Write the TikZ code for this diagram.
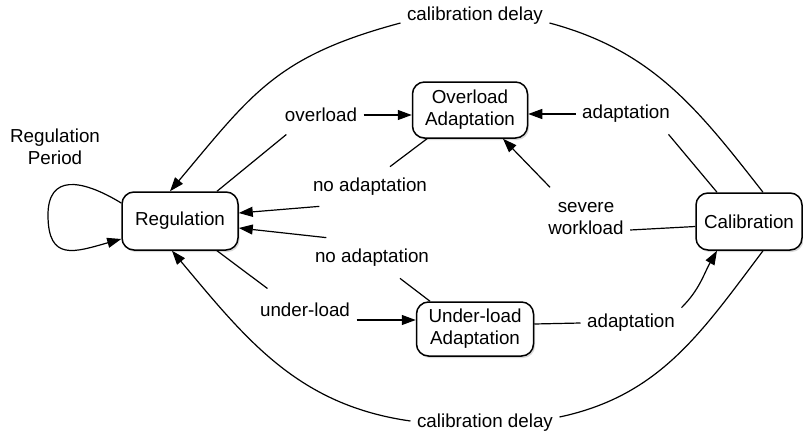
\documentclass[tikz,border=0pt]{standalone}
\usepackage{fontspec}
\setmainfont{Liberation Sans}
\usetikzlibrary{arrows.meta,shadows}

\begin{document}
\begin{tikzpicture}[x=1pt,y=-1pt,line width=1.2pt,
    font=\fontsize{18.8}{22}\selectfont,
    state/.style={draw,line width=1.5pt,rounded corners=12pt,fill=white,align=center,
      drop shadow={shadow xshift=1.5pt,shadow yshift=-2pt,opacity=0.3}},
    lbl/.style={inner sep=6pt,align=center},
    arr/.style={-{Triangle[length=14pt,width=10pt]}}]
      \useasboundingbox (0,0) rectangle (803,434);

      \node[state,minimum width=116pt,minimum height=58pt] (reg) at (180,221) {Regulation};
      \node[state,minimum width=115pt,minimum height=56pt] (ovr) at (470,110) {Overload\\Adaptation};
      \node[state,minimum width=117pt,minimum height=54pt] (und) at (475,329) {Under-load\\Adaptation};
      \node[state,minimum width=106pt,minimum height=57pt] (cal) at (749,221.5) {Calibration};

      \node[lbl] (perlbl) at (55,147) {Regulation\\Period};
      \node[lbl] (topdel) at (475,16) {calibration delay};
      \node[lbl] (botdel) at (485,423) {calibration delay};
      \node[lbl] (ovlbl) at (321,115) {overload};
      \node[lbl] (noad1) at (370,187) {no adaptation};
      \node[lbl] (noad2) at (372,258) {no adaptation};
      \node[lbl] (unlbl) at (305,310) {under-load};
      \node[lbl] (adap1) at (626,114) {adaptation};
      \node[lbl] (severe) at (586,219) {severe\\workload};
      \node[lbl] (adap2) at (631,323) {adaptation};
      \coordinate (uin) at ([yshift=9pt]und.west);

      \draw[arr] ([yshift=18pt]reg.west) .. controls (80,178) and (48,175) .. (48,215)
        .. controls (48,262) and (75,252) .. ([yshift=-18pt]reg.west);

      \draw ([xshift=37pt]reg.north) -- ([xshift=8pt,yshift=-6pt]ovlbl.south west);
      \draw[arr] (ovlbl.east) -- (ovlbl.east -| ovr.west);

      \draw ([xshift=-43pt]ovr.south) -- ([xshift=20pt,yshift=5pt]noad1.north);
      \draw[arr] ([xshift=13pt,yshift=-4pt]noad1.south west) -- ([yshift=8pt]reg.east);

      \draw ([xshift=-45pt]und.north) -- ([xshift=28pt,yshift=-5pt]noad2.south);
      \draw[arr] ([xshift=18pt,yshift=5pt]noad2.north west) -- ([yshift=-7pt]reg.east);

      \draw ([xshift=37pt]reg.south) -- ([xshift=14pt,yshift=8pt]unlbl.north west);
      \draw[arr] (unlbl.east |- uin) -- (uin);

      \draw ([xshift=-32pt]cal.north) -- ([xshift=-8pt,yshift=-5pt]adap1.south east);
      \draw[arr] (adap1.west) -- (adap1.west -| ovr.east);

      \draw ([yshift=-5pt]cal.west) -- ([yshift=-11pt]severe.east);
      \draw[arr] ([xshift=-36pt,yshift=9pt]severe.north) -- ([xshift=33pt]ovr.south);

      \draw ([yshift=5pt]und.east) -- (adap2.west);
      \draw[arr] (adap2.north east) to[out=45,in=-120] ([xshift=-32pt]cal.south);

      \draw ([xshift=14pt]cal.north) to[out=128,in=-15] ([yshift=-7pt]topdel.east);
      \draw[arr] ([yshift=-7pt]topdel.west) to[out=195,in=50,looseness=1.15] ([xshift=-10pt]reg.north);

      \draw ([xshift=14pt]cal.south) to[out=-127,in=12] ([yshift=6pt]botdel.east);
      \draw[arr] ([yshift=2pt]botdel.west) to[out=172,in=-50] ([xshift=-8pt]reg.south);
\end{tikzpicture}
\end{document}
